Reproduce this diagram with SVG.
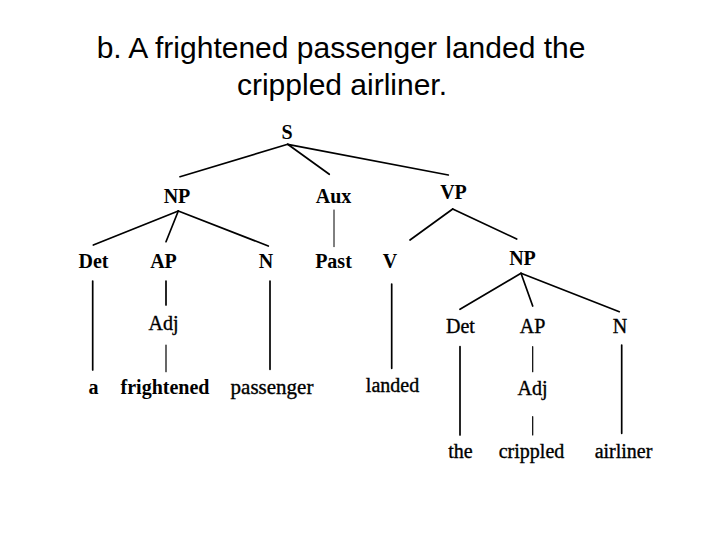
<svg xmlns="http://www.w3.org/2000/svg" width="720" height="540" viewBox="0 0 720 540">
<style>
.title{font-family:"Liberation Sans",Arial,sans-serif;font-size:30px;fill:#000;text-anchor:middle}
.t{font-family:"Liberation Serif","Times New Roman",serif;font-size:20px;fill:#000;text-anchor:middle;stroke:#000;stroke-width:0.35}
.b{font-weight:bold;stroke-width:0}
.e{stroke:#000;stroke-width:1.7;fill:none;stroke-linecap:round}
</style>
<rect width="720" height="540" fill="#fff"/>
<g id="title">
<text class="title" x="341" y="58">b. A frightened passenger landed the</text>
<text class="title" x="342" y="95">crippled airliner.</text>
</g>
<g id="connectors">
<line class="e" x1="287.7" y1="144.3" x2="180" y2="176.7"/>
<line class="e" x1="287.7" y1="144.3" x2="329.3" y2="174.3"/>
<line class="e" x1="287.7" y1="144.3" x2="448.3" y2="175"/>
<line class="e" x1="178.3" y1="211" x2="93.3" y2="245"/>
<line class="e" x1="178.3" y1="211" x2="166" y2="241.7"/>
<line class="e" x1="178.3" y1="211" x2="268.3" y2="246"/>
<line class="e" x1="334" y1="210" x2="334" y2="246.7" style="stroke-width:1"/>
<line class="e" x1="452.7" y1="209" x2="410" y2="240"/>
<line class="e" x1="452.7" y1="209" x2="516.7" y2="239"/>
<line class="e" x1="92.7" y1="281" x2="92.7" y2="370"/>
<line class="e" x1="166" y1="281" x2="166" y2="305"/>
<line class="e" x1="166" y1="345" x2="166" y2="371.7" style="stroke-width:1.2"/>
<line class="e" x1="270" y1="281" x2="270" y2="369.3"/>
<line class="e" x1="391.7" y1="284" x2="391.7" y2="368.3"/>
<line class="e" x1="521" y1="273.3" x2="460" y2="309.3"/>
<line class="e" x1="521" y1="273.3" x2="532.7" y2="306"/>
<line class="e" x1="521" y1="273.3" x2="619.3" y2="311.7"/>
<line class="e" x1="460" y1="346.7" x2="460" y2="435"/>
<line class="e" x1="532.7" y1="346.7" x2="532.7" y2="371.7" style="stroke-width:1.2"/>
<line class="e" x1="532.7" y1="416.7" x2="532.7" y2="435" style="stroke-width:1.2"/>
<line class="e" x1="621.7" y1="345" x2="621.7" y2="433.3"/>
</g>
<g id="S"><text class="t b" x="287" y="139">S</text></g>
<g id="NP1"><text class="t b" x="177" y="203">NP</text></g>
<g id="Aux"><text class="t b" x="333.5" y="203">Aux</text></g>
<g id="VP"><text class="t b" x="453.5" y="198.5">VP</text></g>
<g id="Det1"><text class="t b" x="93.5" y="267.5">Det</text></g>
<g id="AP1"><text class="t b" x="163.5" y="267.5">AP</text></g>
<g id="N1"><text class="t b" x="266" y="267.5">N</text></g>
<g id="Past"><text class="t b" x="333.5" y="267.5">Past</text></g>
<g id="V"><text class="t b" x="390" y="267.5">V</text></g>
<g id="NP2"><text class="t b" x="522.5" y="265">NP</text></g>
<g id="Adj1"><text class="t" x="163.5" y="330">Adj</text></g>
<g id="Det2"><text class="t" x="460.5" y="333">Det</text></g>
<g id="AP2"><text class="t" x="532.5" y="333">AP</text></g>
<g id="N2"><text class="t" x="620" y="333">N</text></g>
<g id="Adj2"><text class="t" x="532.5" y="395">Adj</text></g>
<g id="w-a"><text class="t b" x="93.5" y="393.5">a</text></g>
<g id="w-frightened"><text class="t b" x="165" y="393.5">frightened</text></g>
<g id="w-passenger"><text class="t" x="272" y="393.5" style="font-size:21px">passenger</text></g>
<g id="w-landed"><text class="t" x="392.5" y="392">landed</text></g>
<g id="w-the"><text class="t" x="460.5" y="458">the</text></g>
<g id="w-crippled"><text class="t" x="531.5" y="458">crippled</text></g>
<g id="w-airliner"><text class="t" x="623.5" y="458">airliner</text></g>
</svg>
